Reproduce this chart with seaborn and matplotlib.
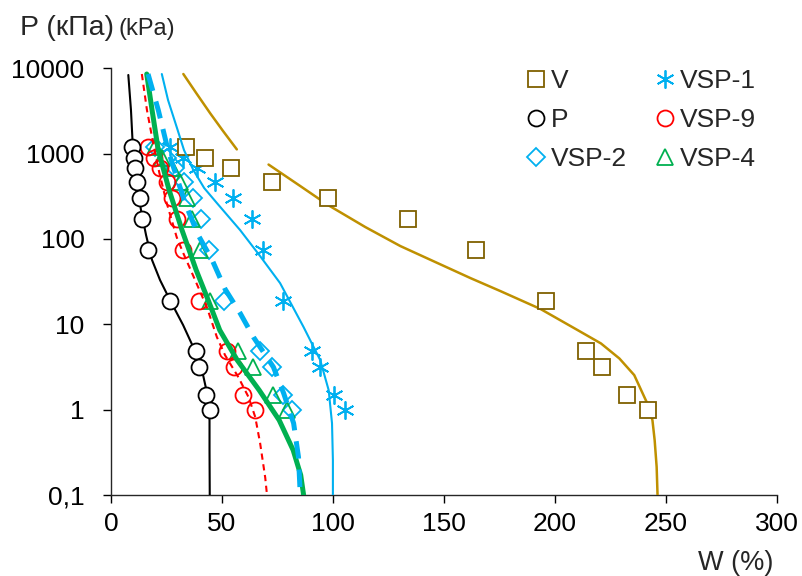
import matplotlib
matplotlib.use("Agg")
import matplotlib.pyplot as plt
from matplotlib.lines import Line2D
from matplotlib.ticker import FixedLocator, NullLocator
import pandas as pd
import seaborn as sns

# load steps (kPa), shared by all soil samples
LOAD_KPA = [1200, 900, 680, 470, 300, 170, 75, 19, 4.9, 3.2, 1.5, 1.0]

# measured water content W (%) at each load step
W_V = [33.8, 42.4, 54.2, 72.5, 97.8, 134.0, 164.7, 196.2, 214.2, 221.1, 232.7, 242.2]
W_P = [9.6, 10.4, 10.8, 11.9, 13.1, 14.1, 16.8, 26.6, 38.2, 39.7, 42.7, 44.5]
W_VSP9 = [16.8, 19.5, 22.1, 25.1, 27.4, 29.6, 32.4, 39.7, 52.2, 55.6, 59.3, 65.0]
W_VSP4 = [19.9, 22.9, 27.7, 31.1, 34.2, 36.7, 40.2, 44.7, 57.4, 64.2, 73.0, 79.3]
W_VSP2 = [19.9, 25.1, 28.9, 32.9, 37.1, 40.7, 44.2, 50.7, 67.2, 72.5, 77.5, 81.5]
W_VSP1 = [26.6, 32.6, 38.7, 46.9, 55.2, 63.4, 68.7, 77.5, 90.6, 94.3, 100.3, 105.6]

# fitted retention curves
FIT_P_W = [7.8, 9.0, 9.8, 10.4, 11.7, 13.5, 15.8, 18.5, 22.1, 26.6, 32.5, 37.9, 41.5, 43.8, 44.4, 44.4, 44.5]
FIT_P_P = [8350, 3240, 1260, 735, 428, 219, 111, 56.6, 33, 19.2, 9.8, 4.85, 2.54, 1.36, 0.75, 0.335, 0.1]

FIT_VSP9_W = [13.9, 16.2, 19.0, 21.8, 25.1, 29.6, 32.6, 37.9, 43.2, 47.7, 51.4, 57.4, 62.0, 65.0, 67.2, 69.5, 70.3]
FIT_VSP9_P = [8570, 3245, 1330, 593, 264, 105, 68, 33, 15.9, 7.1, 4.35, 2.4, 1.4, 0.82, 0.405, 0.16, 0.1]

FIT_VSP4_W = [16.1, 18.5, 21.3, 26.2, 32.0, 38.4, 43.8, 49.0, 56.9, 66.8, 75.8, 82.1, 85.5, 86.8]
FIT_VSP4_P = [8570, 3245, 1100, 374, 127, 43.1, 19.2, 8.55, 3.80, 1.69, 0.753, 0.335, 0.171, 0.1]

FIT_VSP2_W = [16.7, 21.3, 25.7, 29.3, 33.4, 39.3, 45.6, 51.4, 58.2, 64.2, 73.2, 77.8, 82.3, 84.5, 85.3]
FIT_VSP2_P = [8570, 3245, 1100, 561, 264, 111, 56.6, 25.9, 13.5, 7.08, 3.15, 1.56, 0.693, 0.277, 0.1]

FIT_VSP1_W = [22.9, 25.7, 29.6, 32.9, 37.1, 42.0, 47.7, 58.2, 67.2, 76.2, 86.8, 94.3, 98.1, 99.6, 100.0, 100.0]
FIT_VSP1_P = [8570, 4250, 2050, 1100, 643, 395, 264, 127, 63, 30.4, 9.27, 3.80, 1.69, 0.693, 0.256, 0.1]

FIT_V_UP_W = [32.6, 38.4, 44.7, 50.5, 56.7]
FIT_V_UP_P = [8570, 5130, 2970, 1840, 1122]
FIT_V_LOW_W = [71.0, 85.3, 97.8, 114.6, 130.4, 146.2, 162.0, 175.5, 193.6, 210.3, 220.8, 229.1,
               235.8, 241.7, 244.0, 245.0, 245.9, 246.3]
FIT_V_LOW_P = [745, 417, 250, 138, 82.6, 53.6, 34.8, 24.5, 15.1, 8.55, 5.97, 3.98,
               2.54, 1.18, 0.753, 0.439, 0.213, 0.1]

Y_TICKS = [0.1, 1, 10, 100, 1000, 10000]
Y_TICKLABELS = ['0,1', '1', '10', '100', '1000', '10000']
X_TICKS = [0, 50, 100, 150, 200, 250, 300]

GOLD_DARK = '#7F6000'
GOLD = '#BF9000'
LBLUE = '#00B0F0'
RED = '#FF0000'
GREEN = '#00B050'

sns.set_theme(style='ticks')
plt.rcParams['font.family'] = ['Liberation Sans', 'DejaVu Sans']

fig = plt.figure(figsize=(8.02, 5.76), dpi=100)
ax = fig.add_axes([111 / 802, 81 / 576, 665.7 / 802, 426.7 / 576])

MS = 11.5


def curve(w, p, **kw):
    df = pd.DataFrame({'W': w, 'P': p})
    sns.lineplot(data=df, x='W', y='P', sort=False, estimator=None, errorbar=None, ax=ax, **kw)


def points(w, marker, edge, face='none', z=4, ms=MS):
    df = pd.DataFrame({'W': w, 'P': LOAD_KPA})
    sns.lineplot(data=df, x='W', y='P', sort=False, estimator=None, errorbar=None, ax=ax,
                 linestyle='', marker=marker, ms=ms, mfc=face, mec=edge, mew=1.3,
                 color=edge, zorder=z)


# samples whose curves sit under their markers
curve(FIT_P_W, FIT_P_P, color='black', lw=1.5, zorder=3)
curve(FIT_V_UP_W, FIT_V_UP_P, color=GOLD, lw=1.8, zorder=3)
curve(FIT_V_LOW_W, FIT_V_LOW_P, color=GOLD, lw=1.8, zorder=3)
points(W_P, 'o', 'black', face='white')
points(W_V, 's', GOLD_DARK, face='white')

# samples whose curves are drawn over the markers
points(W_VSP1, (6, 2, 0), LBLUE, z=3, ms=13)
points(W_VSP2, 'D', LBLUE, z=3, ms=9.5)
points(W_VSP4, '^', GREEN, z=3)
points(W_VSP9, 'o', RED, z=3)
curve(FIT_VSP1_W, FIT_VSP1_P, color=LBLUE, lw=1.5, zorder=5)
curve(FIT_VSP9_W, FIT_VSP9_P, color=RED, lw=1.5, dashes=(3, 2.2), zorder=5)
curve(FIT_VSP4_W, FIT_VSP4_P, color=GREEN, lw=3.6, zorder=5)
curve(FIT_VSP2_W, FIT_VSP2_P, color=LBLUE, lw=3.6, dashes=(3.5, 2.2), zorder=6)

ax.set_yscale('log')
ax.set_xlim(0, 300)
ax.set_ylim(0.1, 10000)
ax.xaxis.set_major_locator(FixedLocator(X_TICKS))
ax.yaxis.set_major_locator(FixedLocator(Y_TICKS))
ax.yaxis.set_minor_locator(NullLocator())
ax.set_yticklabels(Y_TICKLABELS)
ax.set_xlabel('')
ax.set_ylabel('')
sns.despine(ax=ax)
for side in ('left', 'bottom'):
    ax.spines[side].set_color('#262626')
    ax.spines[side].set_linewidth(1.0)
ax.tick_params(axis='both', labelsize=19, colors='black', length=6, width=1.0, direction='out')
ax.tick_params(axis='x', pad=6)
ax.tick_params(axis='y', pad=13)

fig.text(20 / 802, 1 - 35 / 576, 'P (кПа)', fontsize=20.5, va='baseline', ha='left')
fig.text(119 / 802, 1 - 35 / 576, '(kPa)', fontsize=17, va='baseline', ha='left')
fig.text(773 / 802, 1 - 570 / 576, 'W (%)', fontsize=19.5, va='baseline', ha='right')

handles = [
    Line2D([], [], ls='', marker='s', ms=MS, mfc='none', mec=GOLD_DARK, mew=1.3, label='V'),
    Line2D([], [], ls='', marker='o', ms=MS, mfc='none', mec='black', mew=1.3, label='P'),
    Line2D([], [], ls='', marker='D', ms=9.5, mfc='none', mec=LBLUE, mew=1.3, label='VSP-2'),
    Line2D([], [], ls='', marker=(6, 2, 0), ms=13, color=LBLUE, mew=1.3, label='VSP-1'),
    Line2D([], [], ls='', marker='o', ms=MS, mfc='none', mec=RED, mew=1.3, label='VSP-9'),
    Line2D([], [], ls='', marker='^', ms=MS, mfc='none', mec=GREEN, mew=1.3, label='VSP-4'),
]
fig.legend(handles=handles, ncol=2, frameon=False, fontsize=19, loc='upper left',
           bbox_to_anchor=(527 / 802, 1 - 69 / 576), borderpad=0, borderaxespad=0,
           handlelength=0.7, handletextpad=0.2, columnspacing=1.1, labelspacing=0.57)

fig.savefig('out.png', dpi=100)
